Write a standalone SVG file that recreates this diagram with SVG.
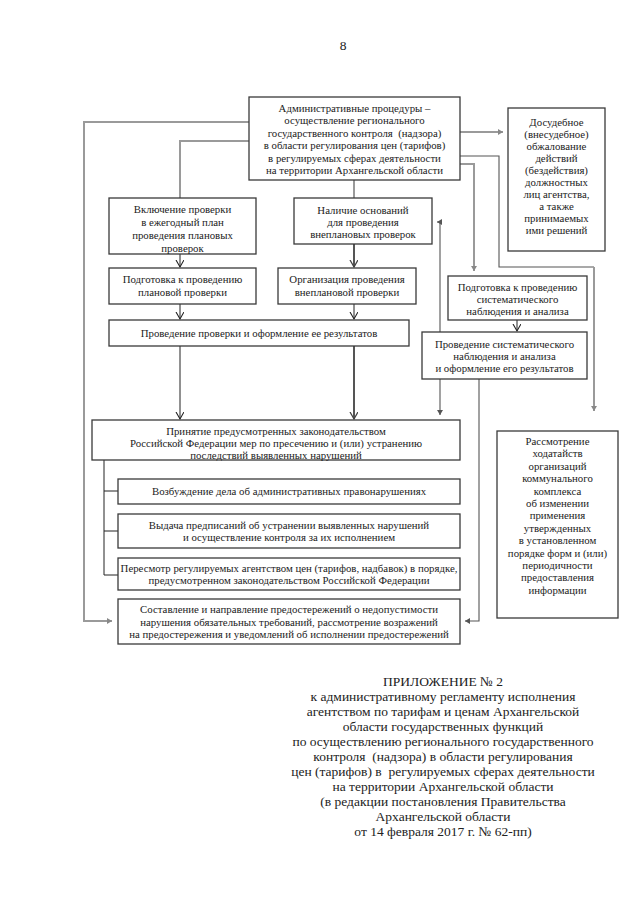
<svg xmlns="http://www.w3.org/2000/svg" width="640" height="905" viewBox="0 0 640 905">
<style>
text{font-family:"Liberation Serif","Times New Roman",serif;fill:#222;text-anchor:middle}
.t{font-size:10.8px}
.ap{font-size:13.5px}
.box{fill:#fff;stroke:#3a3a3a;stroke-width:1.3}
.g{fill:none;stroke:#9a9a9a;stroke-width:2}
.k{fill:none;stroke:#222;stroke-width:1}
.kd{fill:none;stroke:#555;stroke-width:2}
.d{fill:none;stroke:#555;stroke-width:1.1}
</style>
<defs>
<marker id="v" markerUnits="userSpaceOnUse" markerWidth="10" markerHeight="10" refX="7" refY="4" orient="auto"><path d="M0,0 L7,4 L0,8" fill="none" stroke="#222" stroke-width="1.1"/></marker>
<marker id="vd" markerUnits="userSpaceOnUse" markerWidth="10" markerHeight="10" refX="7" refY="4" orient="auto"><path d="M0,0 L7,4 L0,8" fill="none" stroke="#444" stroke-width="1.3"/></marker>
<marker id="f" markerUnits="userSpaceOnUse" markerWidth="8" markerHeight="8" refX="5" refY="3" orient="auto"><path d="M0,0 L5,3 L0,6 z" fill="#888"/></marker>
<marker id="fd" markerUnits="userSpaceOnUse" markerWidth="8" markerHeight="8" refX="5" refY="3" orient="auto"><path d="M0,0 L5,3 L0,6 z" fill="#555"/></marker>
</defs>
<rect width="640" height="905" fill="#fff"/>
<text x="343" y="50" class="ap">8</text>

<g id="connectors">
<path class="g" d="M249,122 H84 V621 H112" marker-end="url(#f)"/>
<path class="g" d="M249,141 H180 V198"/>
<path class="g" d="M460,132 H503" marker-end="url(#f)"/>
<path class="d" d="M460,156 H499 V267 H594"/>
<path class="g" d="M594,267 V411" marker-end="url(#f)"/>
<path class="g" d="M460,164 H474 V271" marker-end="url(#f)"/>
<path class="g" d="M354,180 V198"/>
<path class="k" d="M180,249 V267" marker-end="url(#v)"/>
<path class="kd" d="M354,244 V267" marker-end="url(#vd)"/>
<path class="k" d="M180,304 V319" marker-end="url(#v)"/>
<path class="k" d="M354,304 V319" marker-end="url(#v)"/>
<path class="k" d="M180,346 V419" marker-end="url(#v)"/>
<path class="kd" d="M354,346 V419" marker-end="url(#vd)"/>
<path class="k" d="M517,320 V331" marker-end="url(#v)"/>
<path class="d" d="M440,332 V222 H437" marker-end="url(#fd)"/>
<path class="d" d="M440,379 V415" marker-end="url(#fd)"/>
<path class="d" d="M479,379 V621 H465" marker-end="url(#fd)"/>
<path class="k" d="M104,460 V575 M104,491 H118 M104,531 H118 M104,575 H118"/>
</g>

<g id="n-top">
<rect class="box" x="249" y="97" width="211" height="83"/>
<text class="t" x="354.5" y="111.5">Административные процедуры –</text>
<text class="t" x="354.5" y="124">осуществление регионального</text>
<text class="t" x="354.5" y="136.5" xml:space="preserve">государственного контроля  (надзора)</text>
<text class="t" x="354.5" y="149">в области регулирования цен (тарифов)</text>
<text class="t" x="354.5" y="161.5">в регулируемых сферах деятельности</text>
<text class="t" x="354.5" y="174">на территории Архангельской области</text>
</g>

<g id="n-dosud">
<rect class="box" x="508" y="108" width="97" height="143"/>
<text class="t" x="556.5" y="125.5">Досудебное</text>
<text class="t" x="556.5" y="137.5">(внесудебное)</text>
<text class="t" x="556.5" y="149.5">обжалование</text>
<text class="t" x="556.5" y="161.5">действий</text>
<text class="t" x="556.5" y="173.5">(бездействия)</text>
<text class="t" x="556.5" y="185.5">должностных</text>
<text class="t" x="556.5" y="197.5">лиц агентства,</text>
<text class="t" x="556.5" y="209.5">а также</text>
<text class="t" x="556.5" y="221.5">принимаемых</text>
<text class="t" x="556.5" y="233.5">ими решений</text>
</g>

<g id="n-vklyuchenie">
<rect class="box" x="109" y="198" width="147" height="56"/>
<text class="t" x="182.5" y="212.5">Включение проверки</text>
<text class="t" x="182.5" y="225.5">в ежегодный план</text>
<text class="t" x="182.5" y="238.5">проведения плановых</text>
<text class="t" x="182.5" y="252">проверок</text>
</g>

<g id="n-nalichie">
<rect class="box" x="294" y="198" width="138" height="46"/>
<text class="t" x="363" y="213.5">Наличие оснований</text>
<text class="t" x="363" y="225.5">для проведения</text>
<text class="t" x="363" y="237.5">внеплановых проверок</text>
</g>

<g id="n-podg-plan">
<rect class="box" x="109" y="268" width="147" height="36"/>
<text class="t" x="182.5" y="283">Подготовка к проведению</text>
<text class="t" x="182.5" y="296">плановой проверки</text>
</g>

<g id="n-organiz">
<rect class="box" x="278" y="268" width="138" height="36"/>
<text class="t" x="347" y="283">Организация проведения</text>
<text class="t" x="347" y="296">внеплановой проверки</text>
</g>

<g id="n-provedenie">
<rect class="box" x="109" y="320" width="300" height="26"/>
<text class="t" x="259" y="336.5">Проведение проверки и оформление ее результатов</text>
</g>

<g id="n-podg-sist">
<rect class="box" x="448" y="276" width="139" height="44"/>
<text class="t" x="517.5" y="290.5">Подготовка к проведению</text>
<text class="t" x="517.5" y="302.5">систематического</text>
<text class="t" x="517.5" y="314.5">наблюдения и анализа</text>
</g>

<g id="n-proved-sist">
<rect class="box" x="422" y="332" width="165" height="47"/>
<text class="t" x="504.5" y="347.5">Проведение систематического</text>
<text class="t" x="504.5" y="359.5">наблюдения и анализа</text>
<text class="t" x="504.5" y="371.5">и оформление его результатов</text>
</g>

<g id="n-prinyatie">
<rect class="box" x="92" y="420" width="368" height="40"/>
<text class="t" x="276" y="435">Принятие предусмотренных законодательством</text>
<text class="t" x="276" y="447">Российской Федерации мер по пресечению и (или) устранению</text>
<text class="t" x="276" y="459">последствий выявленных нарушений</text>
</g>

<g id="n-vozbuzhdenie">
<rect class="box" x="118" y="479" width="342" height="25"/>
<text class="t" x="289" y="495">Возбуждение дела об административных правонарушениях</text>
</g>

<g id="n-vydacha">
<rect class="box" x="118" y="514" width="342" height="34"/>
<text class="t" x="289" y="528.5">Выдача предписаний об устранении выявленных нарушений</text>
<text class="t" x="289" y="541">и осуществление контроля за их исполнением</text>
</g>

<g id="n-peresmotr">
<rect class="box" x="118" y="558" width="342" height="32"/>
<text class="t" x="289" y="571.5">Пересмотр регулируемых агентством цен (тарифов, надбавок) в порядке,</text>
<text class="t" x="289" y="584">предусмотренном законодательством Российской Федерации</text>
</g>

<g id="n-sostavlenie">
<rect class="box" x="118" y="599" width="342" height="45"/>
<text class="t" x="289" y="613">Составление и направление предостережений о недопустимости</text>
<text class="t" x="289" y="625.5">нарушения обязательных требований, рассмотрение возражений</text>
<text class="t" x="289" y="638">на предостережения и уведомлений об исполнении предостережений</text>
</g>

<g id="n-rassmotrenie">
<rect class="box" x="497" y="431" width="121" height="187"/>
<text class="t" x="557.5" y="445">Рассмотрение</text>
<text class="t" x="557.5" y="457.4">ходатайств</text>
<text class="t" x="557.5" y="469.8">организаций</text>
<text class="t" x="557.5" y="482.2">коммунального</text>
<text class="t" x="557.5" y="494.6">комплекса</text>
<text class="t" x="557.5" y="507">об изменении</text>
<text class="t" x="557.5" y="519.4">применения</text>
<text class="t" x="557.5" y="531.8">утвержденных</text>
<text class="t" x="557.5" y="544.2">в установленном</text>
<text class="t" x="557.5" y="556.6">порядке форм и (или)</text>
<text class="t" x="557.5" y="569">периодичности</text>
<text class="t" x="557.5" y="581.4">предоставления</text>
<text class="t" x="557.5" y="593.8">информации</text>
</g>

<g id="appendix">
<text class="ap" x="443" y="686">ПРИЛОЖЕНИЕ № 2</text>
<text class="ap" x="443" y="701">к административному регламенту исполнения</text>
<text class="ap" x="443" y="716">агентством по тарифам и ценам Архангельской</text>
<text class="ap" x="443" y="731">области государственных функций</text>
<text class="ap" x="443" y="746">по осуществлению регионального государственного</text>
<text class="ap" x="443" y="761" xml:space="preserve">контроля  (надзора) в области регулирования</text>
<text class="ap" x="443" y="776" xml:space="preserve">цен (тарифов) в  регулируемых сферах деятельности</text>
<text class="ap" x="443" y="791">на территории Архангельской области</text>
<text class="ap" x="443" y="806">(в редакции постановления Правительства</text>
<text class="ap" x="443" y="821">Архангельской области</text>
<text class="ap" x="443" y="836">от 14 февраля 2017 г. № 62-пп)</text>
</g>
</svg>
